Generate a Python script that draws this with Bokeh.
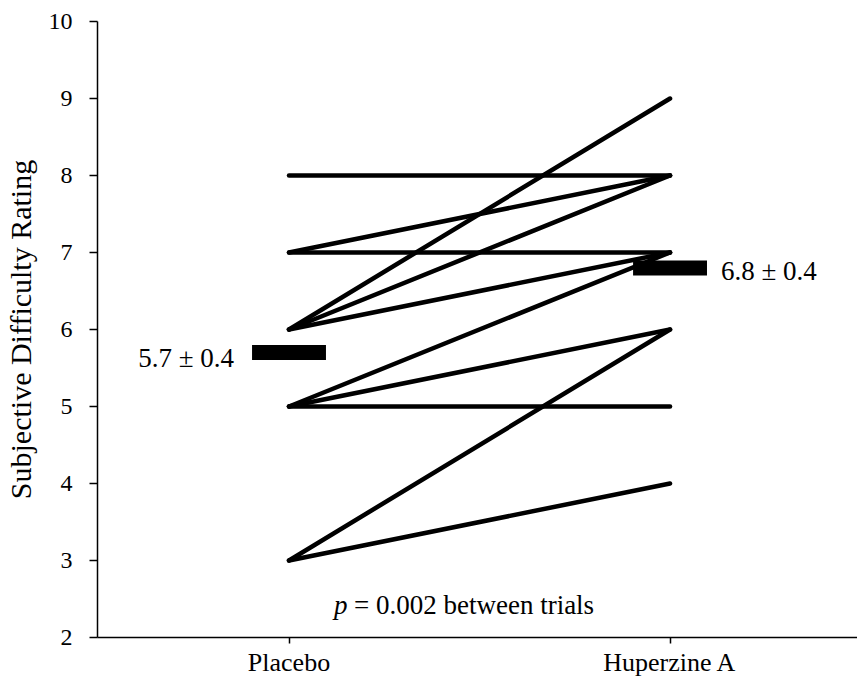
from bokeh.plotting import figure
from bokeh.models import Range1d, FixedTicker
from bokeh.core.properties import value
from bokeh.embed import file_html
from bokeh.resources import INLINE

categories = ["Placebo", "Huperzine A"]
placebo = [8, 7, 7, 6, 6, 6, 5, 5, 5, 3, 3]
huperzine = [8, 8, 7, 9, 8, 7, 7, 6, 5, 6, 4]
means = [5.7, 6.8]
sems = [0.4, 0.4]
y_ticks = [2, 3, 4, 5, 6, 7, 8, 9, 10]
p_value = "0.002"

FONT = "Liberation Serif"

x_pos = [i + 1 for i in range(len(categories))]

p = figure(width=857, height=680, output_backend="svg", toolbar_location=None,
           x_range=Range1d(0.4974, 2.492), y_range=Range1d(2, 10),
           min_border_left=95, min_border_right=0, min_border_top=21, min_border_bottom=43)
p.outline_line_color = None
p.xgrid.visible = False
p.ygrid.visible = False
p.background_fill_color = "white"
p.border_fill_color = "white"

# subject lines
p.segment(x0=[x_pos[0]] * len(placebo), y0=placebo,
          x1=[x_pos[1]] * len(huperzine), y1=huperzine,
          line_color="black", line_width=4.5, line_cap="round")

# mean bars
p.rect(x=x_pos, y=means, width=0.194, height=15, height_units="screen",
       fill_color="black", line_color=None)

labels = [f"{m:.1f} \u00b1 {s:.1f}" for m, s in zip(means, sems)]
p.text(x=[x_pos[0] - 0.097], y=[means[0]], text=[labels[0]], text_align="right",
       text_baseline="middle", x_offset=-18, y_offset=5,
       text_font=value(FONT), text_font_size="27px", text_color="black")
p.text(x=[x_pos[1] + 0.097], y=[means[1]], text=[labels[1]], text_align="left",
       text_baseline="middle", x_offset=14, y_offset=3,
       text_font=value(FONT), text_font_size="27px", text_color="black")

# p value annotation
p.text(x=[1.118], y=[2.42], text=["p"], text_align="left", text_baseline="middle",
       text_font=value(FONT), text_font_style="italic", text_font_size="27px", text_color="black")
p.text(x=[1.118], y=[2.42], text=[f"= {p_value} between trials"], text_align="left",
       text_baseline="middle", x_offset=20,
       text_font=value(FONT), text_font_size="27px", text_color="black")

# axes
p.xaxis.ticker = FixedTicker(ticks=x_pos)
p.xaxis.major_label_overrides = {x: c for x, c in zip(x_pos, categories)}
p.yaxis.ticker = FixedTicker(ticks=y_ticks)
for ax in (p.xaxis, p.yaxis):
    ax.axis_line_color = "black"
    ax.axis_line_width = 1.5
    ax.major_tick_line_color = "black"
    ax.major_tick_line_width = 1.5
    ax.major_tick_in = 0
    ax.minor_tick_line_color = None
    ax.major_label_text_font = FONT
    ax.major_label_text_color = "black"
p.xaxis.major_tick_out = 6
p.xaxis.major_label_standoff = 4
p.xaxis.major_label_text_font_size = "26px"
p.yaxis.major_tick_out = 8
p.yaxis.major_label_standoff = 17
p.yaxis.major_label_text_font_size = "24px"
p.yaxis.axis_label = "Subjective Difficulty Rating"
p.yaxis.axis_label_text_font = FONT
p.yaxis.axis_label_text_font_style = "normal"
p.yaxis.axis_label_text_font_size = "30px"
p.yaxis.axis_label_text_color = "black"
p.yaxis.axis_label_standoff = 9

open("out.html", "w").write(file_html(p, INLINE))
